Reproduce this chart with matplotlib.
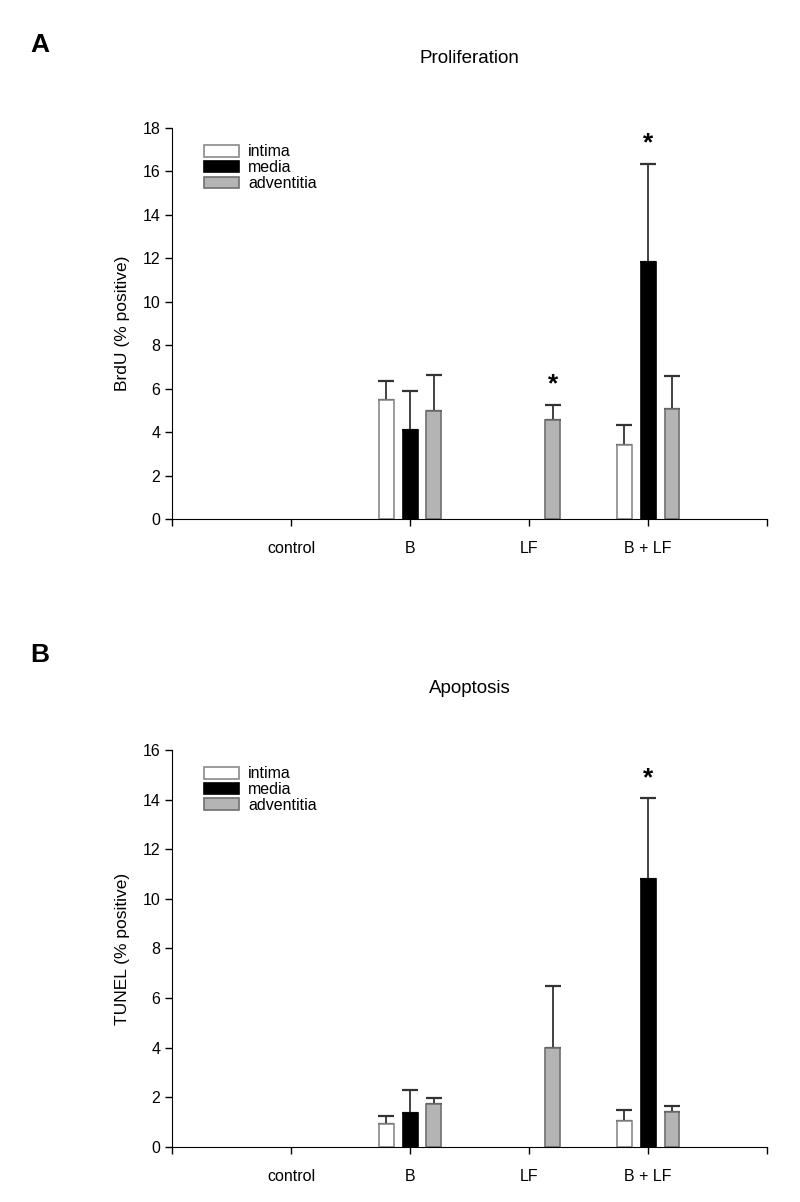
import numpy as np
import matplotlib
matplotlib.use("Agg")
import matplotlib.pyplot as plt

plt.rcParams['font.family'] = ['Liberation Sans', 'DejaVu Sans']

groups = ['control', 'B', 'LF', 'B + LF']
layers = ['intima', 'media', 'adventitia']
nan = np.nan

# proliferation (BrdU % positive), mean and upper error
prolif_intima = [nan, 5.5, nan, 3.4]
prolif_intima_err = [nan, 0.85, nan, 0.95]
prolif_media = [nan, 4.1, nan, 11.85]
prolif_media_err = [nan, 1.8, nan, 4.5]
prolif_adv = [nan, 4.95, 4.55, 5.05]
prolif_adv_err = [nan, 1.7, 0.7, 1.55]
prolif_stars = [(2, 'adventitia'), (3, 'media')]

# apoptosis (TUNEL % positive)
apop_intima = [nan, 0.92, nan, 1.05]
apop_intima_err = [nan, 0.32, nan, 0.43]
apop_media = [nan, 1.38, nan, 10.8]
apop_media_err = [nan, 0.92, nan, 3.25]
apop_adv = [nan, 1.75, 4.0, 1.4]
apop_adv_err = [nan, 0.22, 2.5, 0.25]
apop_stars = [(3, 'media')]

faces = {'intima': 'white', 'media': 'black', 'adventitia': '#b4b4b4'}
edges = {'intima': '#8a8a8a', 'media': 'black', 'adventitia': '#707070'}
offsets = {'intima': -0.2, 'media': 0.0, 'adventitia': 0.2}
width = 0.125

fig = plt.figure(figsize=(8, 12.02), dpi=100)
axA = fig.add_axes([0.215, 0.5682, 0.744, 0.3253])
axB = fig.add_axes([0.215, 0.0458, 0.744, 0.3303])


def draw(ax, series, errs, stars, ymax, ylabel, title, pad):
    x = np.arange(1, len(groups) + 1)
    tops = {}
    for name, vals, err in zip(layers, series, errs):
        vals = np.array(vals, dtype=float)
        err = np.array(err, dtype=float)
        m = ~np.isnan(vals)
        xs = x[m] + offsets[name]
        ax.bar(xs, vals[m], width, color=faces[name], edgecolor=edges[name],
               linewidth=1.2, label=name, zorder=2)
        ax.errorbar(xs, vals[m], yerr=[np.zeros(m.sum()), err[m]], fmt='none',
                    ecolor='#333333', elinewidth=1.3, capsize=6, capthick=1.6, zorder=1)
        tops[name] = vals + np.nan_to_num(err)
    for gi, name in stars:
        ax.annotate('*', (x[gi] + offsets[name], tops[name][gi]), xytext=(0, 6),
                    textcoords='offset points', ha='center', va='bottom',
                    fontsize=19, fontweight='bold')
    ax.set_xlim(0, 5)
    ax.set_ylim(0, ymax)
    ax.set_yticks(np.arange(0, ymax + 1, 2))
    ax.set_xticks(np.arange(0, 6))
    ax.set_xticklabels([''] + groups + [''])
    ax.spines['top'].set_visible(False)
    ax.spines['right'].set_visible(False)
    ax.tick_params(direction='out', length=5, width=1, labelsize=11.5)
    ax.tick_params(axis='x', pad=11)
    ax.set_ylabel(ylabel, fontsize=12.5, labelpad=9)
    ax.set_title(title, fontsize=13.5, pad=pad)
    ax.legend(loc='upper left', bbox_to_anchor=(0.03, 0.995), frameon=False,
              fontsize=11.5, handlelength=2.2, handleheight=0.75,
              labelspacing=0.05, handletextpad=0.55)


draw(axA, [prolif_intima, prolif_media, prolif_adv],
     [prolif_intima_err, prolif_media_err, prolif_adv_err],
     prolif_stars, 18, 'BrdU (% positive)', 'Proliferation', 47)
draw(axB, [apop_intima, apop_media, apop_adv],
     [apop_intima_err, apop_media_err, apop_adv_err],
     apop_stars, 16, 'TUNEL (% positive)', 'Apoptosis', 41)

fig.text(0.05, 1 - 45 / 1202, 'A', fontsize=19, fontweight='bold', ha='center', va='center')
fig.text(0.05, 1 - 655 / 1202, 'B', fontsize=19, fontweight='bold', ha='center', va='center')

fig.savefig('out.png', dpi=100)
